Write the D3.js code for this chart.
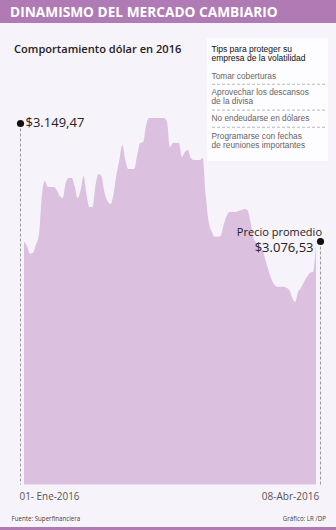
<!DOCTYPE html>
<html><head><meta charset="utf-8">
<script src="https://cdn.jsdelivr.net/npm/d3@7"></script>
<style>
html,body{margin:0;padding:0;background:#f7f3fa;}
svg{display:block;font-family:"Open Sans",sans-serif;}
</style></head><body>
<svg id="c" width="336" height="530"></svg>
<script>
const title = "DINAMISMO DEL MERCADO CAMBIARIO";
const subtitle = "Comportamiento dólar en 2016";
const tipsTitle = ["Tips para proteger su", "empresa de la volatilidad"];
const tips = [["Tomar coberturas"], ["Aprovechar los descansos", "de la divisa"], ["No endeudarse en dólares"], ["Programarse con fechas", "de reuniones importantes"]];
const startDate = "2016-01-01";
const endDate = "2016-04-08";
const startLabel = "01- Ene-2016";
const endLabel = "08-Abr-2016";
const firstPriceLabel = "$3.149,47";
const avgLabel = ["Precio promedio", "$3.076,53"];
const source = "Fuente: Superfinanciera";
const credit = "Gráfico: LR /DP";
// daily dollar price (COP), Jan 1 -> Apr 8 2016
const prices = [3149.5,3140.3,3121.9,3124.2,3142.6,3165.6,3257.5,3289.7,3275.9,3275.9,
3275.9,3269.0,3255.2,3250.6,3285.1,3296.6,3296.6,3278.2,3250.6,3269.0,
3301.2,3257.5,3229.9,3229.9,3280.5,3305.8,3301.2,3264.4,3243.7,3236.8,
3257.5,3303.5,3337.9,3372.4,3337.9,3317.3,3317.3,3317.3,3349.4,3377.0,
3379.3,3418.4,3434.5,3434.5,3434.5,3434.5,3434.5,3434.5,3425.3,3367.8,
3377.0,3377.0,3377.0,3344.8,3356.3,3360.9,3342.5,3337.9,3337.9,3337.9,
3342.5,3257.5,3195.5,3172.5,3161.0,3161.0,3163.3,3188.6,3209.2,3218.4,
3218.4,3218.4,3220.7,3223.0,3225.3,3223.0,3195.5,3158.7,3147.2,3135.7,
3131.1,3108.1,3085.2,3064.5,3050.7,3046.1,3046.1,3046.1,3043.8,3039.2,
3020.8,3011.6,3034.6,3043.8,3057.6,3069.1,3078.3,3080.6,3142.6];
const yDomain = [2591, 3434.5];

const parse = d3.timeParse("%Y-%m-%d");
const t0 = parse(startDate), t1 = parse(endDate);
const dates = prices.map((_, i) => d3.timeDay.offset(t0, i));
const data = dates.map((d, i) => ({date: d, v: prices[i]}));

const svg = d3.select("#c");
const W = 336, H = 530;
const purple = "#b07bb5";

svg.append("rect").attr("width", W).attr("height", H).attr("fill", "#f7f3fa");
svg.append("rect").attr("width", W).attr("height", 23).attr("fill", purple);
svg.append("rect").attr("y", 527).attr("width", W).attr("height", 3).attr("fill", purple);
svg.append("text").attr("x", 10).attr("y", 16.8).attr("fill", "#fff")
  .attr("font-size", 13.7).attr("font-weight", 700).text(title);
svg.append("text").attr("x", 14).attr("y", 53).attr("fill", "#222")
  .attr("font-size", 11.1).attr("font-weight", 600).text(subtitle);

const x = d3.scaleTime().domain([t0, t1]).range([24, 316]);
const y = d3.scaleLinear().domain(yDomain).range([484.5, 118]);

const area = d3.area().x(d => x(d.date)).y0(y(yDomain[0])).y1(d => y(d.v)).curve(d3.curveMonotoneX);
svg.append("path").datum(data).attr("d", area).attr("fill", "#dbc1df");

// dashed guides and dots
const xL = x(t0) - 3.5, xR = x(t1) + 4.5;
const topDotY = 123.5, avgDotY = 241.5;
svg.append("line").attr("x1", xL).attr("x2", xL).attr("y1", topDotY).attr("y2", y(yDomain[0]))
  .attr("stroke", "#999").attr("stroke-dasharray", "3,2").attr("stroke-width", 1);
svg.append("line").attr("x1", xR).attr("x2", xR).attr("y1", avgDotY).attr("y2", y(yDomain[0]))
  .attr("stroke", "#999").attr("stroke-dasharray", "3,2").attr("stroke-width", 1);
svg.append("circle").attr("cx", xL).attr("cy", topDotY).attr("r", 3.6).attr("fill", "#111");
svg.append("circle").attr("cx", xR).attr("cy", avgDotY).attr("r", 3.6).attr("fill", "#111");
svg.append("text").attr("x", xL + 5).attr("y", 127).attr("fill", "#222").attr("font-size", 13).text(firstPriceLabel);
svg.append("text").attr("x", xR + 1.5).attr("y", 236).attr("text-anchor", "end").attr("fill", "#222").attr("font-size", 11).text(avgLabel[0]);
svg.append("text").attr("x", xR - 7).attr("y", 252).attr("text-anchor", "end").attr("fill", "#222").attr("font-size", 13).text(avgLabel[1]);

// date labels
svg.append("text").attr("x", 19.5).attr("y", 499.5).attr("fill", "#555").attr("font-size", 11.5)
  .attr("textLength", 60).attr("lengthAdjust", "spacingAndGlyphs").text(startLabel);
svg.append("text").attr("x", 261.7).attr("y", 499.5).attr("fill", "#555").attr("font-size", 11.5)
  .attr("textLength", 57.6).attr("lengthAdjust", "spacingAndGlyphs").text(endLabel);

// footer
svg.append("text").attr("x", 11.5).attr("y", 521).attr("fill", "#444").attr("font-size", 6.2).text(source);
svg.append("text").attr("x", 326).attr("y", 521).attr("text-anchor", "end").attr("fill", "#444").attr("font-size", 6.2).text(credit);

// tips box
const g = svg.append("g").style("font-family", "'Liberation Sans', Arial, sans-serif");
g.append("rect").attr("x", 207).attr("y", 38).attr("width", 121).attr("height", 123).attr("fill", "#fdfcfe");
tipsTitle.forEach((t, i) => g.append("text").attr("x", 211.5).attr("y", 51.5 + i * 9.5)
  .attr("fill", "#111").attr("font-size", 8.5).text(t));
const tipTops = [78.5, 95, 121, 138.5];
const lineStep = 9.3;
tips.forEach((lines, k) => {
  lines.forEach((t, i) => g.append("text").attr("x", 211.5).attr("y", tipTops[k] + i * lineStep)
    .attr("fill", "#666").attr("font-size", 8.3).text(t));
  if (k < tips.length - 1) {
    const ly = (tipTops[k] + (lines.length - 1) * lineStep + tipTops[k + 1] - 8) / 2 + 1.5;
    g.append("line").attr("x1", 212).attr("x2", 325).attr("y1", ly).attr("y2", ly)
      .attr("stroke", "#aaa").attr("stroke-dasharray", "3,2").attr("stroke-width", 0.8);
  }
});
</script></body></html>
